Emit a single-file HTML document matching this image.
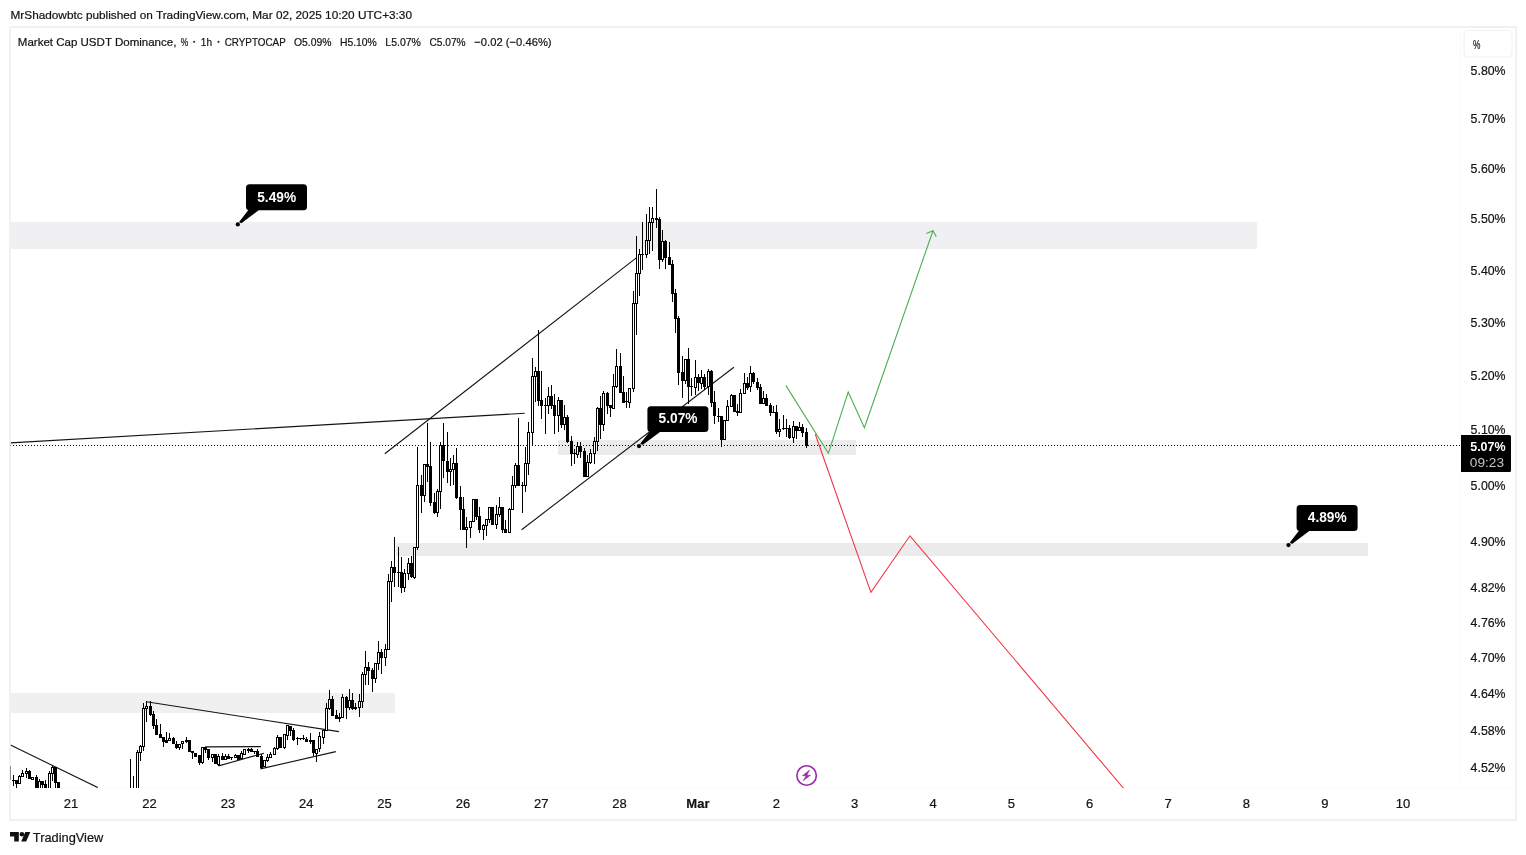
<!DOCTYPE html>
<html><head><meta charset="utf-8"><title>USDT Dominance</title>
<style>
html,body{margin:0;padding:0;background:#fff;}
body{width:1526px;height:855px;position:relative;overflow:hidden;font-family:"Liberation Sans",sans-serif;}
</style></head><body>
<svg width="1526" height="855" viewBox="0 0 1526 855" style="position:absolute;left:0;top:0;will-change:transform" font-family="Liberation Sans, sans-serif">
<defs><clipPath id="plot"><rect x="10" y="28" width="1451" height="760"/></clipPath></defs>
<rect x="10" y="27" width="1506" height="793" fill="none" stroke="#f1f1f1" stroke-width="2"/>
<path d="M1460.5 28V788.5M11 788.5H1515" stroke="#fbfbfb" stroke-width="1" fill="none"/>
<g clip-path="url(#plot)">
<rect x="11" y="222" width="1246" height="27" fill="#f0f0f3"/>
<rect x="558" y="440" width="298" height="15" fill="#ebebeb"/>
<rect x="396" y="543" width="972" height="13" fill="#ebebeb"/>
<rect x="11" y="693" width="384" height="20" fill="#f0f0f3"/>
<path d="M10 445.5H1461" stroke="#000" stroke-width="1" stroke-dasharray="1 2" fill="none" shape-rendering="crispEdges"/>
<path d="M10.5 442.9L524.7 413.3" stroke="#141414" stroke-width="1.1" fill="none"/>
<path d="M384.8 453.7L636.3 257.9" stroke="#141414" stroke-width="1.1" fill="none"/>
<path d="M521.6 529.7L733.9 367.2" stroke="#141414" stroke-width="1.1" fill="none"/>
<path d="M10.5 745L97.8 787.6" stroke="#141414" stroke-width="1.1" fill="none"/>
<path d="M146.3 701.8L338.9 731.6" stroke="#141414" stroke-width="1.1" fill="none"/>
<path d="M205.2 746.9L260.9 746.6" stroke="#141414" stroke-width="1.1" fill="none"/>
<path d="M218.6 765.9L263.9 753.2" stroke="#141414" stroke-width="1.1" fill="none"/>
<path d="M260.4 768.9L335.8 751.6" stroke="#141414" stroke-width="1.1" fill="none"/>
<g shape-rendering="crispEdges">
<path d="M10 766h1v14h-1zM13 775h1v11h-1zM16 780h1v8h-1zM19 775h1v9h-1zM22 770h1v7h-1zM26 768h1v10h-1zM29 770h1v9h-1zM32 777h1v3h-1zM36 775h1v15h-1zM39 779h1v11h-1zM42 781h1v9h-1zM45 780h1v10h-1zM49 771h1v19h-1zM52 766h1v15h-1zM55 767h1v23h-1zM58 782h1v8h-1zM130 759h1v31h-1zM133 776h1v14h-1zM137 750h1v42h-1zM140 745h1v16h-1zM143 703h1v48h-1zM146 701h1v21h-1zM150 701h1v15h-1zM153 711h1v18h-1zM156 719h1v16h-1zM160 724h1v14h-1zM163 737h1v10h-1zM166 732h1v11h-1zM169 733h1v8h-1zM173 737h1v7h-1zM176 741h1v8h-1zM179 744h1v6h-1zM182 741h1v8h-1zM186 737h1v6h-1zM189 740h1v12h-1zM192 751h1v8h-1zM195 753h1v4h-1zM199 755h1v10h-1zM202 747h1v17h-1zM205 747h1v6h-1zM208 749h1v11h-1zM212 754h1v8h-1zM215 754h1v10h-1zM218 754h1v12h-1zM222 753h1v7h-1zM225 754h1v6h-1zM228 754h1v5h-1zM231 757h1v3h-1zM235 754h1v4h-1zM238 755h1v5h-1zM241 751h1v8h-1zM244 749h1v6h-1zM248 748h1v5h-1zM251 748h1v4h-1zM254 751h1v3h-1zM257 749h1v8h-1zM261 754h1v15h-1zM264 760h1v7h-1zM267 754h1v8h-1zM270 752h1v6h-1zM274 747h1v8h-1zM277 735h1v15h-1zM280 737h1v11h-1zM284 734h1v15h-1zM287 725h1v15h-1zM290 726h1v10h-1zM293 728h1v13h-1zM297 737h1v8h-1zM300 738h1v2h-1zM303 735h1v5h-1zM306 737h1v5h-1zM310 733h1v11h-1zM313 740h1v16h-1zM316 749h1v13h-1zM319 732h1v20h-1zM323 730h1v14h-1zM326 703h1v28h-1zM329 690h1v20h-1zM332 696h1v20h-1zM336 710h1v9h-1zM339 713h1v9h-1zM342 694h1v24h-1zM346 696h1v23h-1zM349 689h1v21h-1zM352 693h1v17h-1zM355 703h1v7h-1zM359 694h1v23h-1zM362 672h1v36h-1zM365 651h1v34h-1zM368 662h1v23h-1zM372 668h1v24h-1zM375 663h1v20h-1zM378 641h1v29h-1zM381 649h1v25h-1zM385 644h1v22h-1zM388 574h1v76h-1zM391 561h1v41h-1zM394 537h1v50h-1zM398 547h1v40h-1zM401 557h1v36h-1zM404 569h1v23h-1zM408 558h1v22h-1zM411 556h1v22h-1zM414 547h1v32h-1zM417 447h1v103h-1zM421 475h1v38h-1zM424 464h1v38h-1zM427 423h1v59h-1zM430 442h1v64h-1zM434 493h1v21h-1zM437 489h1v28h-1zM440 442h1v67h-1zM443 423h1v55h-1zM447 432h1v51h-1zM450 458h1v28h-1zM453 455h1v30h-1zM456 448h1v51h-1zM460 486h1v44h-1zM463 497h1v33h-1zM466 517h1v31h-1zM470 521h1v17h-1zM473 499h1v23h-1zM476 499h1v21h-1zM479 507h1v26h-1zM483 524h1v16h-1zM486 519h1v17h-1zM489 507h1v16h-1zM492 507h1v18h-1zM496 505h1v24h-1zM499 497h1v20h-1zM502 507h1v26h-1zM505 520h1v13h-1zM509 508h1v25h-1zM512 476h1v34h-1zM515 463h1v25h-1zM518 418h1v68h-1zM522 482h1v31h-1zM525 447h1v45h-1zM528 422h1v53h-1zM532 358h1v88h-1zM535 367h1v35h-1zM538 330h1v76h-1zM541 371h1v48h-1zM545 398h1v36h-1zM548 387h1v27h-1zM551 385h1v24h-1zM554 394h1v40h-1zM558 397h1v35h-1zM561 400h1v28h-1zM564 405h1v25h-1zM567 415h1v28h-1zM571 436h1v30h-1zM574 449h1v15h-1zM577 442h1v16h-1zM580 442h1v16h-1zM584 448h1v29h-1zM587 455h1v22h-1zM590 449h1v15h-1zM594 437h1v27h-1zM597 407h1v44h-1zM600 396h1v43h-1zM603 391h1v40h-1zM607 392h1v22h-1zM610 405h1v12h-1zM613 374h1v35h-1zM616 349h1v39h-1zM620 353h1v40h-1zM623 376h1v27h-1zM626 392h1v16h-1zM629 388h1v20h-1zM633 291h1v101h-1zM636 236h1v99h-1zM639 249h1v47h-1zM642 222h1v48h-1zM646 214h1v44h-1zM649 207h1v47h-1zM652 207h1v44h-1zM656 189h1v39h-1zM659 217h1v52h-1zM662 230h1v32h-1zM665 240h1v29h-1zM669 242h1v23h-1zM672 260h1v42h-1zM675 289h1v44h-1zM678 316h1v69h-1zM682 356h1v42h-1zM685 359h1v25h-1zM688 348h1v56h-1zM691 378h1v18h-1zM695 360h1v35h-1zM698 374h1v17h-1zM701 370h1v19h-1zM704 374h1v16h-1zM708 369h1v26h-1zM711 370h1v37h-1zM714 391h1v33h-1zM718 408h1v14h-1zM721 416h1v31h-1zM724 420h1v20h-1zM727 400h1v21h-1zM731 394h1v13h-1zM734 395h1v17h-1zM737 404h1v12h-1zM740 389h1v24h-1zM744 373h1v21h-1zM747 377h1v13h-1zM750 366h1v26h-1zM753 372h1v12h-1zM757 378h1v12h-1zM760 384h1v20h-1zM763 391h1v13h-1zM766 394h1v12h-1zM770 403h1v13h-1zM773 406h1v7h-1zM776 405h1v29h-1zM779 419h1v18h-1zM783 415h1v15h-1zM786 419h1v18h-1zM789 425h1v14h-1zM793 421h1v22h-1zM796 426h1v13h-1zM799 422h1v9h-1zM802 424h1v13h-1zM806 428h1v20h-1z" fill="#000"/>
<path d="M12 780h3v1h-3zM15 780h3v4h-3zM28 771h3v8h-3zM35 777h3v13h-3zM41 781h3v4h-3zM44 784h3v6h-3zM54 767h3v16h-3zM57 782h3v8h-3zM149 706h3v9h-3zM152 714h3v12h-3zM155 725h3v10h-3zM159 734h3v4h-3zM162 737h3v5h-3zM165 740h3v3h-3zM172 738h3v6h-3zM175 744h3v4h-3zM185 740h3v2h-3zM188 740h3v12h-3zM191 751h3v2h-3zM194 753h3v4h-3zM198 755h3v8h-3zM204 747h3v3h-3zM207 749h3v9h-3zM214 754h3v10h-3zM221 756h3v4h-3zM227 756h3v3h-3zM230 757h3v1h-3zM237 755h3v5h-3zM247 749h3v2h-3zM250 749h3v3h-3zM253 751h3v1h-3zM256 751h3v6h-3zM260 756h3v12h-3zM279 737h3v11h-3zM289 726h3v5h-3zM292 730h3v10h-3zM296 738h3v1h-3zM299 738h3v1h-3zM302 738h3v1h-3zM305 739h3v3h-3zM309 740h3v2h-3zM312 740h3v13h-3zM331 699h3v17h-3zM335 715h3v4h-3zM338 717h3v2h-3zM345 697h3v11h-3zM351 700h3v9h-3zM354 707h3v2h-3zM367 667h3v4h-3zM371 670h3v9h-3zM380 652h3v6h-3zM393 567h3v6h-3zM397 572h3v1h-3zM400 572h3v16h-3zM410 563h3v14h-3zM420 485h3v11h-3zM426 464h3v3h-3zM429 466h3v37h-3zM433 502h3v11h-3zM442 445h3v16h-3zM446 461h3v11h-3zM455 463h3v35h-3zM459 497h3v13h-3zM462 509h3v21h-3zM475 499h3v18h-3zM478 516h3v14h-3zM491 507h3v18h-3zM501 507h3v23h-3zM504 529h3v4h-3zM517 465h3v21h-3zM521 485h3v1h-3zM537 371h3v30h-3zM540 400h3v6h-3zM544 405h3v1h-3zM550 396h3v10h-3zM553 405h3v11h-3zM560 400h3v25h-3zM566 417h3v25h-3zM570 441h3v13h-3zM573 453h3v1h-3zM579 446h3v6h-3zM583 451h3v26h-3zM599 408h3v17h-3zM606 393h3v13h-3zM609 405h3v3h-3zM619 366h3v27h-3zM622 392h3v11h-3zM625 401h3v1h-3zM641 254h3v1h-3zM655 218h3v2h-3zM658 219h3v41h-3zM664 241h3v17h-3zM668 257h3v8h-3zM671 264h3v30h-3zM674 293h3v26h-3zM677 318h3v55h-3zM681 372h3v9h-3zM687 359h3v28h-3zM690 386h3v1h-3zM697 377h3v6h-3zM703 377h3v10h-3zM710 371h3v32h-3zM713 402h3v14h-3zM717 416h3v1h-3zM720 416h3v24h-3zM733 395h3v17h-3zM736 411h3v2h-3zM746 383h3v5h-3zM752 373h3v9h-3zM756 382h3v6h-3zM759 387h3v17h-3zM765 398h3v8h-3zM769 405h3v8h-3zM772 412h3v1h-3zM775 412h3v20h-3zM782 428h3v1h-3zM785 428h3v1h-3zM788 428h3v10h-3zM795 426h3v5h-3zM801 427h3v6h-3zM805 432h3v14h-3z" fill="#000"/>
<path d="M18 776h3v8h-3zM21 773h3v4h-3zM25 771h3v3h-3zM31 777h3v3h-3zM38 781h3v9h-3zM48 773h3v17h-3zM51 767h3v7h-3zM136 752h3v40h-3zM139 746h3v7h-3zM142 708h3v39h-3zM145 706h3v3h-3zM168 738h3v3h-3zM178 744h3v4h-3zM181 741h3v3h-3zM201 747h3v16h-3zM211 754h3v4h-3zM217 756h3v9h-3zM224 756h3v4h-3zM234 755h3v3h-3zM240 753h3v6h-3zM243 749h3v6h-3zM263 760h3v7h-3zM266 757h3v4h-3zM269 754h3v4h-3zM273 748h3v7h-3zM276 737h3v12h-3zM283 734h3v14h-3zM286 725h3v11h-3zM315 749h3v5h-3zM318 736h3v13h-3zM322 730h3v8h-3zM325 708h3v23h-3zM328 699h3v10h-3zM341 697h3v21h-3zM348 700h3v8h-3zM358 701h3v7h-3zM361 674h3v28h-3zM364 667h3v8h-3zM374 663h3v16h-3zM377 652h3v12h-3zM384 649h3v9h-3zM387 581h3v69h-3zM390 567h3v15h-3zM403 573h3v15h-3zM407 563h3v11h-3zM413 547h3v31h-3zM416 485h3v63h-3zM423 464h3v32h-3zM436 491h3v22h-3zM439 445h3v47h-3zM449 469h3v3h-3zM452 463h3v7h-3zM465 527h3v3h-3zM469 521h3v7h-3zM472 499h3v23h-3zM482 525h3v5h-3zM485 519h3v7h-3zM488 507h3v13h-3zM495 514h3v11h-3zM498 507h3v8h-3zM508 509h3v24h-3zM511 485h3v25h-3zM514 465h3v21h-3zM524 463h3v23h-3zM527 432h3v32h-3zM531 376h3v57h-3zM534 371h3v6h-3zM547 396h3v10h-3zM557 400h3v16h-3zM563 417h3v8h-3zM576 446h3v9h-3zM586 462h3v15h-3zM589 453h3v10h-3zM593 441h3v13h-3zM596 408h3v34h-3zM602 393h3v32h-3zM612 386h3v23h-3zM615 366h3v21h-3zM628 388h3v15h-3zM632 303h3v86h-3zM635 273h3v31h-3zM638 254h3v20h-3zM645 240h3v15h-3zM648 222h3v19h-3zM651 218h3v5h-3zM661 241h3v19h-3zM684 359h3v22h-3zM694 377h3v11h-3zM700 377h3v7h-3zM707 371h3v16h-3zM723 420h3v20h-3zM726 406h3v15h-3zM730 395h3v12h-3zM739 393h3v20h-3zM743 383h3v11h-3zM749 373h3v14h-3zM762 398h3v6h-3zM778 429h3v3h-3zM792 426h3v12h-3zM798 427h3v4h-3z" fill="#000"/>
<path d="M19 777h1v6h-1zM22 774h1v2h-1zM26 772h1v1h-1zM32 778h1v1h-1zM39 782h1v7h-1zM49 774h1v15h-1zM52 768h1v5h-1zM137 753h1v38h-1zM140 747h1v5h-1zM143 709h1v37h-1zM146 707h1v1h-1zM169 739h1v1h-1zM179 745h1v2h-1zM182 742h1v1h-1zM202 748h1v14h-1zM212 755h1v2h-1zM218 757h1v7h-1zM225 757h1v2h-1zM235 756h1v1h-1zM241 754h1v4h-1zM244 750h1v4h-1zM264 761h1v5h-1zM267 758h1v2h-1zM270 755h1v2h-1zM274 749h1v5h-1zM277 738h1v10h-1zM284 735h1v12h-1zM287 726h1v9h-1zM316 750h1v3h-1zM319 737h1v11h-1zM323 731h1v6h-1zM326 709h1v21h-1zM329 700h1v8h-1zM342 698h1v19h-1zM349 701h1v6h-1zM359 702h1v5h-1zM362 675h1v26h-1zM365 668h1v6h-1zM375 664h1v14h-1zM378 653h1v10h-1zM385 650h1v7h-1zM388 582h1v67h-1zM391 568h1v13h-1zM404 574h1v13h-1zM408 564h1v9h-1zM414 548h1v29h-1zM417 486h1v61h-1zM424 465h1v30h-1zM437 492h1v20h-1zM440 446h1v45h-1zM450 470h1v1h-1zM453 464h1v5h-1zM466 528h1v1h-1zM470 522h1v5h-1zM473 500h1v21h-1zM483 526h1v3h-1zM486 520h1v5h-1zM489 508h1v11h-1zM496 515h1v9h-1zM499 508h1v6h-1zM509 510h1v22h-1zM512 486h1v23h-1zM515 466h1v19h-1zM525 464h1v21h-1zM528 433h1v30h-1zM532 377h1v55h-1zM535 372h1v4h-1zM548 397h1v8h-1zM558 401h1v14h-1zM564 418h1v6h-1zM577 447h1v7h-1zM587 463h1v13h-1zM590 454h1v8h-1zM594 442h1v11h-1zM597 409h1v32h-1zM603 394h1v30h-1zM613 387h1v21h-1zM616 367h1v19h-1zM629 389h1v13h-1zM633 304h1v84h-1zM636 274h1v29h-1zM639 255h1v18h-1zM646 241h1v13h-1zM649 223h1v17h-1zM652 219h1v3h-1zM662 242h1v17h-1zM685 360h1v20h-1zM695 378h1v9h-1zM701 378h1v5h-1zM708 372h1v14h-1zM724 421h1v18h-1zM727 407h1v13h-1zM731 396h1v10h-1zM740 394h1v18h-1zM744 384h1v9h-1zM750 374h1v12h-1zM763 399h1v4h-1zM779 430h1v1h-1zM793 427h1v10h-1zM799 428h1v2h-1z" fill="#fff"/>
</g>
<path d="M785.8 385.4L828.4 453.3L848.2 392L864.4 427.8L933 230.7" stroke="#4caf50" stroke-width="1.1" fill="none" stroke-linejoin="miter"/>
<path d="M926.4 233.5L933 230.7L936.3 236.8" stroke="#4caf50" stroke-width="1.1" fill="none"/>
<path d="M815.3 434.3L870.9 592.4L910 535.8L1123.3 788" stroke="#f23645" stroke-width="1.1" fill="none"/>
<rect x="246" y="184.3" width="61" height="26" rx="3.5" fill="#000"/>
<path d="M249.3 208.8L259.3 209.8L241.3 223.3L239.1 221.9Z" fill="#000"/>
<circle cx="237.8" cy="224.4" r="2.15" fill="#000"/>
<text x="257.2" y="201.9" font-size="13.8" font-weight="bold" fill="#fff" textLength="38.9" lengthAdjust="spacingAndGlyphs">5.49%</text>
<rect x="647.4" y="406.2" width="61" height="25.8" rx="3.5" fill="#000"/>
<path d="M650.7 430.5L660.7 431.5L642.5 445L640.3 443.6Z" fill="#000"/>
<circle cx="639" cy="446.1" r="2.15" fill="#000"/>
<text x="658.6" y="422.9" font-size="13.8" font-weight="bold" fill="#fff" textLength="38.9" lengthAdjust="spacingAndGlyphs">5.07%</text>
<rect x="1296.6" y="505.1" width="61" height="25.8" rx="3.5" fill="#000"/>
<path d="M1299.9 529.4L1309.9 530.4L1292 544L1289.8 542.6Z" fill="#000"/>
<circle cx="1288.5" cy="545.1" r="2.15" fill="#000"/>
<text x="1307.8" y="522" font-size="13.8" font-weight="bold" fill="#fff" textLength="38.9" lengthAdjust="spacingAndGlyphs">4.89%</text>
<g transform="translate(806.6 775.5)"><circle r="9.75" fill="none" stroke="#9c27b0" stroke-width="1.6"/><path d="M3 -5.5L-4.2 0.2L-0.5 0.2L-3.5 5.3L4 -0.3L0.3 -0.3Z" fill="#9c27b0" stroke="#9c27b0" stroke-width="0.5" stroke-linejoin="round"/></g>
</g>
<rect x="10" y="28" width="1" height="760" fill="#f4f4f4" opacity="0.6"/>
<text x="1470.6" y="74.8" font-size="13" fill="#141414" stroke="#141414" stroke-width="0.22" textLength="35" lengthAdjust="spacingAndGlyphs">5.80%</text>
<text x="1470.6" y="122.8" font-size="13" fill="#141414" stroke="#141414" stroke-width="0.22" textLength="35" lengthAdjust="spacingAndGlyphs">5.70%</text>
<text x="1470.6" y="172.8" font-size="13" fill="#141414" stroke="#141414" stroke-width="0.22" textLength="35" lengthAdjust="spacingAndGlyphs">5.60%</text>
<text x="1470.6" y="222.9" font-size="13" fill="#141414" stroke="#141414" stroke-width="0.22" textLength="35" lengthAdjust="spacingAndGlyphs">5.50%</text>
<text x="1470.6" y="274.7" font-size="13" fill="#141414" stroke="#141414" stroke-width="0.22" textLength="35" lengthAdjust="spacingAndGlyphs">5.40%</text>
<text x="1470.6" y="326.6" font-size="13" fill="#141414" stroke="#141414" stroke-width="0.22" textLength="35" lengthAdjust="spacingAndGlyphs">5.30%</text>
<text x="1470.6" y="379.5" font-size="13" fill="#141414" stroke="#141414" stroke-width="0.22" textLength="35" lengthAdjust="spacingAndGlyphs">5.20%</text>
<text x="1470.6" y="433.8" font-size="13" fill="#141414" stroke="#141414" stroke-width="0.22" textLength="35" lengthAdjust="spacingAndGlyphs">5.10%</text>
<text x="1470.6" y="489.5" font-size="13" fill="#141414" stroke="#141414" stroke-width="0.22" textLength="35" lengthAdjust="spacingAndGlyphs">5.00%</text>
<text x="1470.6" y="545.8" font-size="13" fill="#141414" stroke="#141414" stroke-width="0.22" textLength="35" lengthAdjust="spacingAndGlyphs">4.90%</text>
<text x="1470.6" y="592" font-size="13" fill="#141414" stroke="#141414" stroke-width="0.22" textLength="35" lengthAdjust="spacingAndGlyphs">4.82%</text>
<text x="1470.6" y="627" font-size="13" fill="#141414" stroke="#141414" stroke-width="0.22" textLength="35" lengthAdjust="spacingAndGlyphs">4.76%</text>
<text x="1470.6" y="662.1" font-size="13" fill="#141414" stroke="#141414" stroke-width="0.22" textLength="35" lengthAdjust="spacingAndGlyphs">4.70%</text>
<text x="1470.6" y="697.8" font-size="13" fill="#141414" stroke="#141414" stroke-width="0.22" textLength="35" lengthAdjust="spacingAndGlyphs">4.64%</text>
<text x="1470.6" y="734.5" font-size="13" fill="#141414" stroke="#141414" stroke-width="0.22" textLength="35" lengthAdjust="spacingAndGlyphs">4.58%</text>
<text x="1470.6" y="771.5" font-size="13" fill="#141414" stroke="#141414" stroke-width="0.22" textLength="35" lengthAdjust="spacingAndGlyphs">4.52%</text>
<rect x="1464" y="30.5" width="48" height="26.5" rx="4" fill="#fff" stroke="#f0f0f0" stroke-width="1"/>
<text x="1473" y="49" font-size="12.5" fill="#141414" stroke="#141414" stroke-width="0.22" textLength="7.4" lengthAdjust="spacingAndGlyphs">%</text>
<path d="M1461 435H1509.500Q1511 435 1511 436.500V470.500Q1511 472 1509.500 472H1461Z" fill="#000"/>
<text x="1470.2" y="450.9" font-size="12.6" font-weight="bold" fill="#fff" textLength="35.4" lengthAdjust="spacingAndGlyphs">5.07%</text>
<text x="1469.8" y="466.6" font-size="12.6" fill="#c4c4c4" textLength="34.2" lengthAdjust="spacingAndGlyphs">09:23</text>
<text x="71.1" y="808" font-size="13" text-anchor="middle" fill="#141414" stroke="#141414" stroke-width="0.22">21</text>
<text x="149.5" y="808" font-size="13" text-anchor="middle" fill="#141414" stroke="#141414" stroke-width="0.22">22</text>
<text x="227.9" y="808" font-size="13" text-anchor="middle" fill="#141414" stroke="#141414" stroke-width="0.22">23</text>
<text x="306.2" y="808" font-size="13" text-anchor="middle" fill="#141414" stroke="#141414" stroke-width="0.22">24</text>
<text x="384.5" y="808" font-size="13" text-anchor="middle" fill="#141414" stroke="#141414" stroke-width="0.22">25</text>
<text x="462.9" y="808" font-size="13" text-anchor="middle" fill="#141414" stroke="#141414" stroke-width="0.22">26</text>
<text x="541.2" y="808" font-size="13" text-anchor="middle" fill="#141414" stroke="#141414" stroke-width="0.22">27</text>
<text x="619.6" y="808" font-size="13" text-anchor="middle" fill="#141414" stroke="#141414" stroke-width="0.22">28</text>
<text x="697.9" y="808" font-size="13" text-anchor="middle" fill="#141414" stroke="#141414" stroke-width="0.22" font-weight="bold">Mar</text>
<text x="776.3" y="808" font-size="13" text-anchor="middle" fill="#141414" stroke="#141414" stroke-width="0.22">2</text>
<text x="854.6" y="808" font-size="13" text-anchor="middle" fill="#141414" stroke="#141414" stroke-width="0.22">3</text>
<text x="933" y="808" font-size="13" text-anchor="middle" fill="#141414" stroke="#141414" stroke-width="0.22">4</text>
<text x="1011.3" y="808" font-size="13" text-anchor="middle" fill="#141414" stroke="#141414" stroke-width="0.22">5</text>
<text x="1089.7" y="808" font-size="13" text-anchor="middle" fill="#141414" stroke="#141414" stroke-width="0.22">6</text>
<text x="1168" y="808" font-size="13" text-anchor="middle" fill="#141414" stroke="#141414" stroke-width="0.22">7</text>
<text x="1246.4" y="808" font-size="13" text-anchor="middle" fill="#141414" stroke="#141414" stroke-width="0.22">8</text>
<text x="1324.8" y="808" font-size="13" text-anchor="middle" fill="#141414" stroke="#141414" stroke-width="0.22">9</text>
<text x="1403.1" y="808" font-size="13" text-anchor="middle" fill="#141414" stroke="#141414" stroke-width="0.22">10</text>
<text x="10.5" y="19.15" font-size="11.4" fill="#141414" stroke="#141414" stroke-width="0.22" textLength="401.500" lengthAdjust="spacingAndGlyphs">MrShadowbtc published on TradingView.com, Mar 02, 2025 10:20 UTC+3:30</text>
<text x="17.8" y="45.8" font-size="11.6" fill="#141414" stroke="#141414" stroke-width="0.22" textLength="158.6" lengthAdjust="spacingAndGlyphs">Market Cap USDT Dominance,</text>
<text x="180.7" y="45.8" font-size="11.6" fill="#141414" stroke="#141414" stroke-width="0.22" textLength="7.5" lengthAdjust="spacingAndGlyphs">%</text>
<text x="200.8" y="45.8" font-size="11.6" fill="#141414" stroke="#141414" stroke-width="0.22" textLength="11.2" lengthAdjust="spacingAndGlyphs">1h</text>
<text x="224.7" y="45.8" font-size="11.6" fill="#141414" stroke="#141414" stroke-width="0.22" textLength="61.1" lengthAdjust="spacingAndGlyphs">CRYPTOCAP</text>
<text x="294" y="45.8" font-size="11.6" fill="#141414" stroke="#141414" stroke-width="0.22" textLength="37.4" lengthAdjust="spacingAndGlyphs">O5.09%</text>
<text x="339.9" y="45.8" font-size="11.6" fill="#141414" stroke="#141414" stroke-width="0.22" textLength="36.9" lengthAdjust="spacingAndGlyphs">H5.10%</text>
<text x="385.3" y="45.8" font-size="11.6" fill="#141414" stroke="#141414" stroke-width="0.22" textLength="35.6" lengthAdjust="spacingAndGlyphs">L5.07%</text>
<text x="429.4" y="45.8" font-size="11.6" fill="#141414" stroke="#141414" stroke-width="0.22" textLength="36.2" lengthAdjust="spacingAndGlyphs">C5.07%</text>
<text x="474.3" y="45.8" font-size="11.6" fill="#141414" stroke="#141414" stroke-width="0.22" textLength="77.3" lengthAdjust="spacingAndGlyphs">−0.02 (−0.46%)</text>
<circle cx="194.1" cy="41.8" r="0.9" fill="#141414" stroke="#141414" stroke-width="0.22"/>
<circle cx="218.5" cy="41.8" r="0.9" fill="#141414" stroke="#141414" stroke-width="0.22"/>
<g fill="#111"><path d="M10 832H18.800V841.600H14.200V836.500H10Z"/><circle cx="21.900" cy="834.300" r="2.300"/><path d="M25.300 832H30.300L26.200 841.600H21.200Z"/></g>
<text x="32.8" y="841.7" font-size="13.2" fill="#141414" stroke="#141414" stroke-width="0.22" textLength="70.5" lengthAdjust="spacingAndGlyphs">TradingView</text>
</svg>
</body></html>
